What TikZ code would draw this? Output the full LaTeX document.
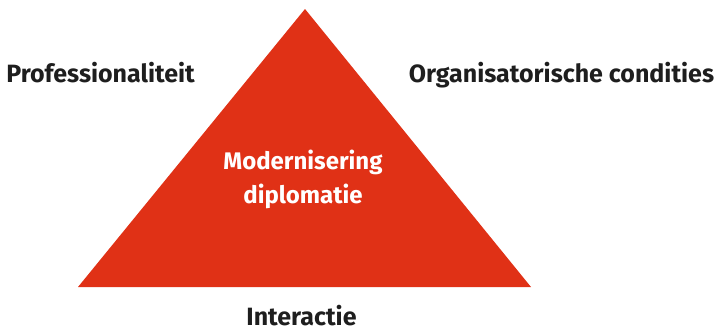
\documentclass[tikz,border=0pt]{standalone}
\usepackage{fontspec}
\setmainfont{Fira Sans}
\usetikzlibrary{positioning}
\definecolor{triared}{RGB}{224,49,22}
\definecolor{labelgrey}{RGB}{30,30,30}

\begin{document}
\begin{tikzpicture}[
    x=1pt, y=-1pt,
    corner/.style={font=\fontsize{25}{30}\selectfont\bfseries, text=labelgrey, inner sep=0pt, anchor=base},
    core/.style={font=\fontsize{24}{34}\selectfont\bfseries, text=white, align=center, inner sep=0pt},
    pyramid/.style={fill=triared, draw=none}
]

% ============================================================
% CANVAS (717 x 333)
% ============================================================
\useasboundingbox (0,0) rectangle (717,333);

% ============================================================
% TRIANGLE
% Apex (305,9), base (78,287) to (531,287)
% ============================================================
\fill[pyramid] (305,9) -- (531,287) -- (78,287) -- cycle;

% ============================================================
% LABELS
% ============================================================
\node[core] (centre) at (303,179) {Modernisering\\diplomatie};
\node[corner] (prof) at (100.5,82) {Professionaliteit};
\node[corner] (orga) at (561.5,82) {Organisatorische condities};
\node[corner] (inter) at (301.5,325) {Interactie};

\end{tikzpicture}
\end{document}
